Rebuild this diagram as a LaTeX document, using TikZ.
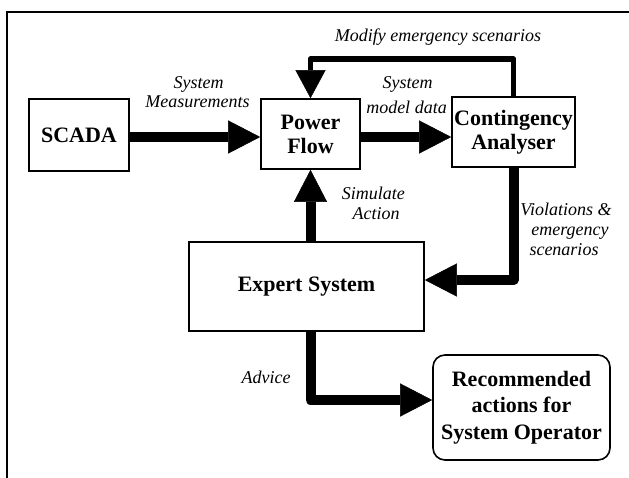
\documentclass[tikz,border=0pt]{standalone}
\usepackage{fontspec}
\setmainfont{Liberation Serif}
\usetikzlibrary{arrows.meta}
\begin{document}
\begin{tikzpicture}[x=1pt,y=-1pt,
  box/.style={draw, line width=1.6pt, fill=white, inner sep=0pt, align=center,
    font=\fontsize{22}{24}\selectfont\bfseries},
  lbl/.style={inner sep=0pt, anchor=base, font=\fontsize{18}{20}\selectfont\itshape},
  bigarrow/.style={line width=10pt, line join=round,
    -{Triangle[length=32pt,width=33pt,line width=0.5pt]}},
  midarrow/.style={line width=5.6pt, line join=round,
    -{Triangle[length=28pt,width=30pt,line width=0.5pt]}},
  frameline/.style={line width=1.8pt}
]
\useasboundingbox (0,0) rectangle (629,477);
% frame
\coordinate (fbl) at (7,490);
\coordinate (ftl) at (7,12);
\coordinate (ftr) at (640,12);
\draw[frameline] (fbl) -- (ftl) -- (ftr);

% boxes
\node[box, minimum width=100pt, minimum height=72pt] (scada) at (79,135) {SCADA};
\node[box, minimum width=99pt, minimum height=70pt] (pf) at (310.5,134) {Power\\Flow};
\node[box, minimum width=123pt, minimum height=70pt] (ca) at (513.5,132) {Contingency\\Analyser};
\node[box, minimum width=235pt, minimum height=89pt] (ex) at (306.5,286.5) {Expert System};
\node[box, minimum width=177pt, minimum height=105pt, rounded corners=12pt,
  font=\fontsize{22}{26.5}\selectfont\bfseries] (rec) at (521.5,407.5)
  {Recommended\\actions for\\System Operator};

% helper coordinates
\coordinate (looptop) at (0,59);
\coordinate (vio) at (0,280);
\coordinate (adv) at (0,400);

% connectors
\draw[bigarrow] ([yshift=-2pt]scada.east) -- ([yshift=-2pt]scada.east -| pf.west);
\draw[bigarrow] ([yshift=-3pt]pf.east) -- ([yshift=-3pt]pf.east -| ca.west);
\draw[midarrow] (ca.north) -- (ca.north |- looptop) -- (pf.north |- looptop) -- (pf.north);
\draw[bigarrow] (pf.south |- ex.north) -- (pf.south);
\draw[bigarrow] (ca.south) -- (ca.south |- vio) -- (ex.east |- vio);
\draw[bigarrow] (pf.south |- ex.south) -- (pf.south |- adv) -- (rec.west |- adv);

% labels
\node[lbl] (lmod) at (438,41) {Modify emergency scenarios};
\node[lbl] (lsm1) at (198.5,88.3) {System};
\node[lbl] (lsm2) at (197.5,107.7) {Measurements};
\node[lbl] (lmd1) at (407.5,88) {System};
\node[lbl] (lmd2) at (406.5,113.3) {model data};
\node[lbl] (lsa1) at (373.3,199) {Simulate};
\node[lbl] (lsa2) at (376,219) {Action};
\node[lbl] (lv1) at (566,215) {Violations \&};
\node[lbl] (lv2) at (570,235) {emergency};
\node[lbl] (lv3) at (564,255) {scenarios};
\node[lbl] (ladv) at (266,383) {Advice};
\end{tikzpicture}
\end{document}
